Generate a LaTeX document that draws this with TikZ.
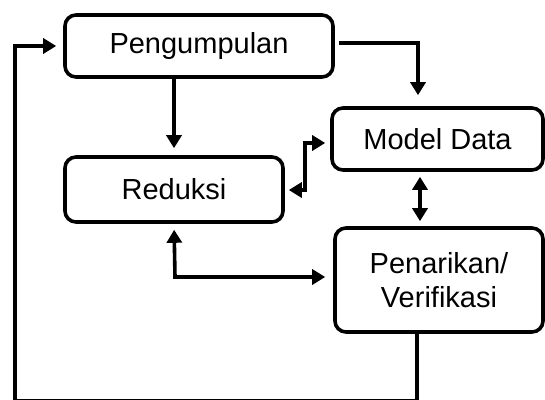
\documentclass[tikz,border=0pt]{standalone}
\usepackage{fontspec}
\setmainfont{Liberation Sans}
\usetikzlibrary{arrows.meta,calc}
\begin{document}
\begin{tikzpicture}[x=1pt,y=-1pt,
  box/.style={draw=black,line width=3.6pt,rounded corners=11pt,inner sep=0pt,align=center,
    font=\fontsize{29}{34}\selectfont},
  conn/.style={line width=3.6pt,-{Triangle[length=13pt,width=15pt]}},
  bconn/.style={line width=3.6pt,{Triangle[length=13pt,width=15pt]}-{Triangle[length=13pt,width=15pt]}}
]
\useasboundingbox (0,0) rectangle (545,399);
\node[box,minimum width=268pt,minimum height=62pt] (P) at (199,46) {Pengumpulan};
\node[box,minimum width=218pt,minimum height=65pt] (R) at (174,189.5) {Reduksi};
\node[box,minimum width=211pt,minimum height=62pt] (M) at (437.5,139) {Model Data};
\node[box,minimum width=208pt,minimum height=104pt] (V) at (439,280) {Penarikan/\\Verifikasi};
% Pengumpulan -> Reduksi
\draw[conn,shorten >=7pt] (R.north |- P.south) -- (R.north);
% Pengumpulan -> Model Data
\coordinate (pm) at (418,43);
\draw[conn,shorten >=11pt,shorten <=4pt] ([yshift=3pt]P.east) -- (pm) -- (pm |- M.north);
% Reduksi <-> Model Data
\coordinate (rm) at (305,143);
\draw[bconn,shorten >=5pt,shorten <=4pt] ([yshift=-0.5pt]R.east) -| (rm) -- (rm -| M.west);
% Model Data <-> Penarikan
\coordinate (mv) at (420,0);
\draw[bconn,shorten >=5pt,shorten <=5pt] (mv |- M.south) -- (mv |- V.north);
% Reduksi <-> Penarikan
\coordinate (rv) at (175,277);
\draw[bconn,shorten >=8pt,shorten <=6pt] (R.south) -- (rv) -- (rv -| V.west);
% Loop
\coordinate (lb) at (417,400.8);
\coordinate (lc) at (15,400.8);
\draw[conn,shorten >=7pt] (lb |- V.south) -- (lb) -- (lc) |- (P.west);
\end{tikzpicture}
\end{document}
